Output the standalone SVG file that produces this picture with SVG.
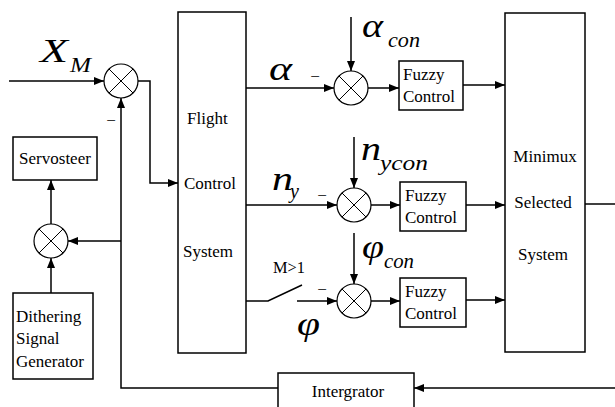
<svg xmlns="http://www.w3.org/2000/svg" width="615" height="407" viewBox="0 0 615 407">
<defs>
<marker id="arr" markerWidth="10" markerHeight="8" refX="10" refY="4" orient="auto" markerUnits="userSpaceOnUse">
<path d="M0,0 L10,4 L0,8 z" fill="#000"/>
</marker>
<style>
.box{fill:#fff;stroke:#000;stroke-width:1.5}
.ln{fill:none;stroke:#000;stroke-width:1.5}
.sum circle{fill:#fff;stroke:#000;stroke-width:1.2}
.sum path{stroke:#000;stroke-width:1}
.t{font-family:"Liberation Serif","Times New Roman",serif;font-size:17px;fill:#000}
.tc{text-anchor:middle}
.g{font-family:"Liberation Serif","Times New Roman",serif;font-style:italic;font-size:34px;fill:#000}
.s{font-family:"Liberation Serif","Times New Roman",serif;font-style:italic;font-size:20px;fill:#000}
</style>
</defs>
<rect width="615" height="407" fill="#fff"/>

<g id="connectors">
<path class="ln" d="M9,81 H104" marker-end="url(#arr)"/>
<path class="ln" d="M138,81 H150 V183 H178" marker-end="url(#arr)"/>
<path class="ln" d="M278,388 H121 V98" marker-end="url(#arr)"/>
<path class="ln" d="M121,241 H68" marker-end="url(#arr)"/>
<path class="ln" d="M51,224 V180" marker-end="url(#arr)"/>
<path class="ln" d="M51,293 V258" marker-end="url(#arr)"/>
<path class="ln" d="M246,88 H334" marker-end="url(#arr)"/>
<path class="ln" d="M351,17 V71" marker-end="url(#arr)"/>
<path class="ln" d="M368,88 H399" marker-end="url(#arr)"/>
<path class="ln" d="M463,85 H505" marker-end="url(#arr)"/>
<path class="ln" d="M246,205 H337" marker-end="url(#arr)"/>
<path class="ln" d="M354,137 V188" marker-end="url(#arr)"/>
<path class="ln" d="M371,205 H400" marker-end="url(#arr)"/>
<path class="ln" d="M466,205 H505" marker-end="url(#arr)"/>
<path class="ln" d="M246,301 H268 L302,285"/>
<path class="ln" d="M297,301 H337" marker-end="url(#arr)"/>
<path class="ln" d="M354,233 V284" marker-end="url(#arr)"/>
<path class="ln" d="M371,301 H400" marker-end="url(#arr)"/>
<path class="ln" d="M466,300 H505" marker-end="url(#arr)"/>
<path class="ln" d="M585,204 H615"/>
<path class="ln" d="M615,388 H414" marker-end="url(#arr)"/>
</g>

<g id="sum1" class="sum"><circle cx="121" cy="81" r="17"/><path d="M109,69 L133,93 M133,69 L109,93"/></g>
<g id="sum2" class="sum"><circle cx="51" cy="241" r="17"/><path d="M39,229 L63,253 M63,229 L39,253"/></g>
<g id="sum3" class="sum"><circle cx="351" cy="88" r="17"/><path d="M339,76 L363,100 M363,76 L339,100"/></g>
<g id="sum4" class="sum"><circle cx="354" cy="205" r="17"/><path d="M342,193 L366,217 M366,193 L342,217"/></g>
<g id="sum5" class="sum"><circle cx="354" cy="301" r="17"/><path d="M342,289 L366,313 M366,289 L342,313"/></g>

<g id="servosteer"><rect class="box" x="13" y="137" width="84" height="43"/><text class="t tc" x="55" y="164">Servosteer</text></g>
<g id="dithering"><rect class="box" x="13" y="293" width="80" height="86"/>
<text class="t" x="16" y="322">Dithering</text><text class="t" x="16" y="344">Signal</text><text class="t" x="16" y="367">Generator</text></g>
<g id="flight"><rect class="box" x="178" y="12" width="68" height="341"/>
<text class="t" x="187" y="124">Flight</text><text class="t" x="184" y="189">Control</text><text class="t" x="183" y="257">System</text></g>
<g id="fuzzy1"><rect class="box" x="399" y="61" width="64" height="49"/><text class="t" x="403" y="80">Fuzzy</text><text class="t" x="403" y="102">Control</text></g>
<g id="fuzzy2"><rect class="box" x="400" y="182" width="66" height="49"/><text class="t" x="405" y="201">Fuzzy</text><text class="t" x="405" y="223">Control</text></g>
<g id="fuzzy3"><rect class="box" x="400" y="278" width="66" height="49"/><text class="t" x="405" y="297">Fuzzy</text><text class="t" x="405" y="319">Control</text></g>
<g id="minimux"><rect class="box" x="505" y="13" width="80" height="339"/>
<text class="t tc" x="545" y="162">Minimux</text><text class="t tc" x="543" y="208">Selected</text><text class="t tc" x="543" y="260">System</text></g>
<g id="integrator"><rect class="box" x="278" y="373" width="136" height="40"/><text class="t tc" x="348" y="397">Intergrator</text></g>

<g id="labels">
<text class="g" x="40" y="62" font-size="35" textLength="28" lengthAdjust="spacingAndGlyphs">X</text>
<text class="g" x="269" y="80" textLength="23" lengthAdjust="spacingAndGlyphs">α</text>
<text class="g" x="362" y="37" textLength="21" lengthAdjust="spacingAndGlyphs">α</text>
<text class="g" x="272" y="190" textLength="21" lengthAdjust="spacingAndGlyphs">n</text>
<text class="g" x="361" y="160" textLength="20" lengthAdjust="spacingAndGlyphs">n</text>
<text class="g" x="362" y="258" textLength="22" lengthAdjust="spacingAndGlyphs">φ</text>
<text class="g" x="297" y="335" textLength="23" lengthAdjust="spacingAndGlyphs">φ</text>
<text class="s" x="70" y="72" textLength="21" lengthAdjust="spacingAndGlyphs">M</text>
<text class="s" x="388" y="47" textLength="32" lengthAdjust="spacingAndGlyphs">con</text>
<text class="s" x="290" y="198" font-size="17">y</text>
<text class="s" x="380" y="170" textLength="48" lengthAdjust="spacingAndGlyphs">ycon</text>
<text class="s" x="384" y="268" textLength="30" lengthAdjust="spacingAndGlyphs">con</text>
<text class="t" x="273" y="273" textLength="32" lengthAdjust="spacingAndGlyphs">M&gt;1</text>
<text class="t tc" x="111" y="126">−</text>
<text class="t tc" x="315" y="82">−</text>
<text class="t tc" x="322" y="201">−</text>
<text class="t tc" x="322" y="295">−</text>
</g>
</svg>
